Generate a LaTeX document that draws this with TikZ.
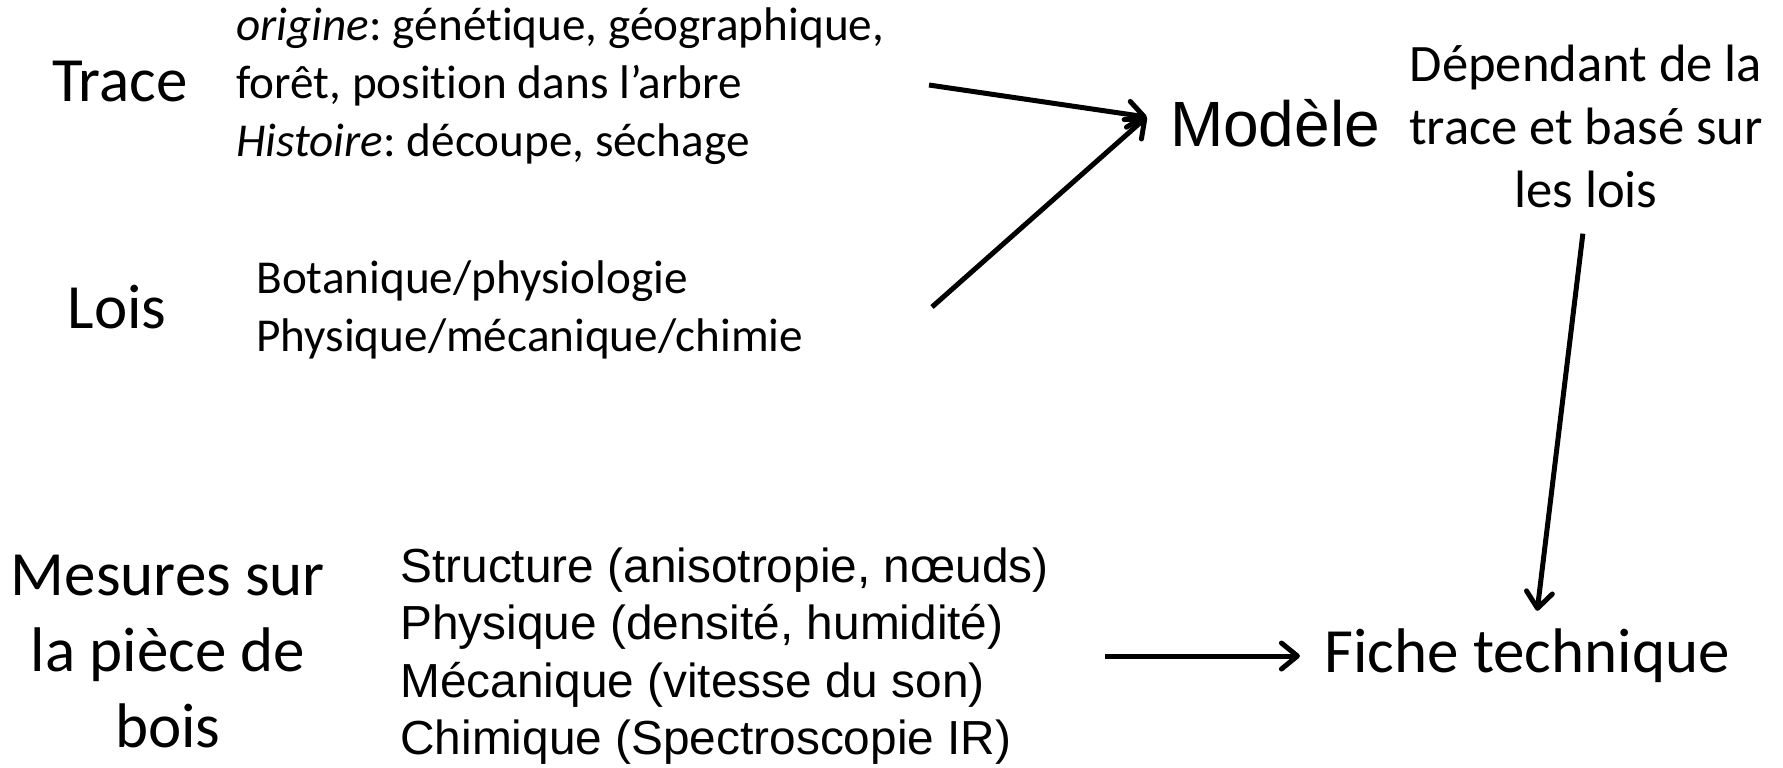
\documentclass[tikz,border=0pt]{standalone}
\usepackage{fontspec}
\setmainfont{Carlito}[Ligatures=NoCommon]
\newfontfamily\arialfont{Liberation Sans}
\usetikzlibrary{arrows.meta,positioning}
\frenchspacing

\begin{document}
\begin{tikzpicture}[x=0.5pt,y=-0.5pt,
    big/.style={font=\fontsize{31.5}{38}\selectfont,align=center,inner sep=0pt},
    small/.style={font=\fontsize{23.6}{29}\selectfont,align=left,inner sep=0pt},
    note/.style={font=\fontsize{26.3}{31.5}\selectfont,align=center,inner sep=0pt},
    sans/.style={font=\arialfont\fontsize{23.9}{28.75}\selectfont,align=left,inner sep=0pt},
    arr/.style={line width=2.5pt,-{Straight Barb[round,length=8pt,width=13pt]}}]
    \useasboundingbox (0,0) rectangle (1783,767);

    \node[big] (trace) at (120,82) {Trace};
    \node[small,anchor=west] (tlist) at (236,86)
        {\textit{origine}: génétique, géographique,\\forêt, position dans l’arbre\\\textit{Histoire}: découpe, séchage};
    \node[big] (lois) at (117,307) {Lois};
    \node[small,anchor=west] (llist) at (256,310)
        {Botanique/physiologie\\Physique/mécanique/chimie};

    \node[font=\arialfont\fontsize{32}{38}\selectfont,inner sep=0pt] (modele) at (1275,123) {Modèle};
    \node[note] (dep) at (1586,126) {Dépendant de la\\trace et basé sur\\les lois};

    \node[big] (mesures) at (168,652) {Mesures sur\\la pièce de\\bois};
    \node[sans,anchor=west] (mlist) at (400,656)
        {Structure (anisotropie, nœuds)\\Physique (densité, humidité)\\Mécanique (vitesse du son)\\Chimique (Spectroscopie IR)};
    \node[big] (fiche) at (1527,656) {Fiche technique};

    % arrows
    \coordinate (t-out) at (929,85);
    \coordinate (l-out) at (932,307);
    \coordinate (m-in) at ([xshift=-11.5pt,yshift=3pt]modele.west);
    \draw[arr] (t-out) -- (m-in);
    \draw[arr] (l-out) -- (m-in);
    \draw[arr,shorten <=13pt,shorten >=9pt] (dep.south) -- ([xshift=4pt]fiche.north);
    \draw[arr,shorten <=28pt,shorten >=12pt] (mlist.east) -- (fiche.west);
\end{tikzpicture}
\end{document}
